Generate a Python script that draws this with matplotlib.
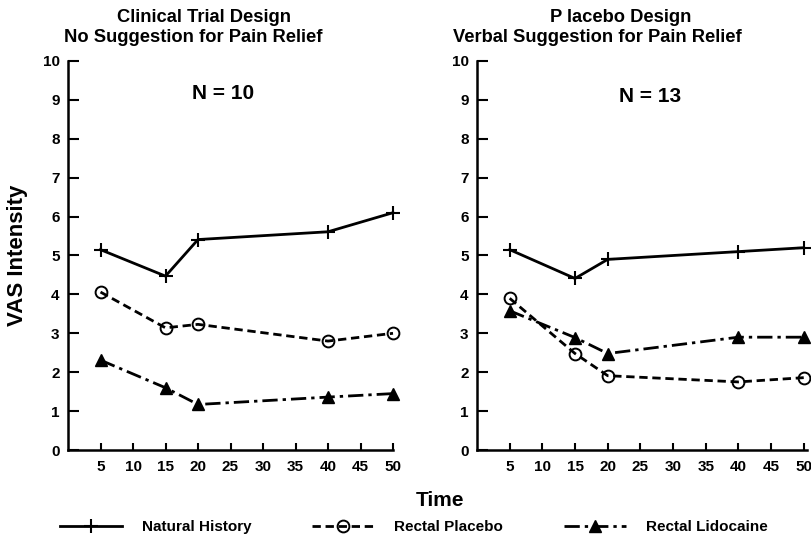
import matplotlib
matplotlib.use("Agg")
import matplotlib.pyplot as plt
from matplotlib.lines import Line2D

plt.rcParams['font.family'] = ['Liberation Sans', 'DejaVu Sans']
plt.rcParams['font.weight'] = 'bold'

time = [5, 15, 20, 40, 50]
x_ticks = [5, 10, 15, 20, 25, 30, 35, 40, 45, 50]
y_ticks = list(range(0, 11))

# Clinical trial design (no suggestion), N = 10
clin_natural = [5.15, 4.47, 5.41, 5.61, 6.10]
clin_placebo = [4.06, 3.14, 3.23, 2.80, 3.00]
clin_lidocaine = [2.31, 1.60, 1.17, 1.36, 1.45]

# Placebo design (verbal suggestion), N = 13
plac_natural = [5.15, 4.41, 4.90, 5.10, 5.20]
plac_placebo = [3.90, 2.48, 1.91, 1.75, 1.86]
plac_lidocaine = [3.58, 2.89, 2.48, 2.90, 2.90]

series_names = ["Natural History", "Rectal Placebo", "Rectal Lidocaine"]
titles = [["Clinical Trial Design", "No Suggestion for Pain Relief"],
          ["P lacebo Design", "Verbal Suggestion for Pain Relief"]]
n_labels = ["N = 10", "N = 13"]

styles = [
    dict(color='black', lw=2.0, linestyle='-', marker='+', ms=10, mew=1.5),
    dict(color='black', lw=2.0, linestyle=(0, (3.0, 1.7)), marker='o', ms=8.5,
         mfc='none', mew=1.4),
    dict(color='black', lw=2.0, linestyle=(0, (5.5, 1.8, 1.2, 1.8)), marker='^', ms=9,
         mew=1.0),
]

fig = plt.figure(figsize=(8.11, 5.38), dpi=100)
ax_l = fig.add_axes([68/811, 1-450/538, 325/811, 389/538])
ax_r = fig.add_axes([477/811, 1-450/538, 330/811, 389/538])

panels = [
    (ax_l, [clin_natural, clin_placebo, clin_lidocaine], 50.0),
    (ax_r, [plac_natural, plac_placebo, plac_lidocaine], 50.5),
]

for ax, data, xmax in panels:
    for vals, st in zip(data, styles):
        ax.plot(time, vals, clip_on=False, **st)
    ax.set_xlim(0, xmax)
    ax.set_ylim(0, 10)
    ax.set_xticks(x_ticks)
    ax.set_yticks(y_ticks)
    ax.spines['top'].set_visible(False)
    ax.spines['right'].set_visible(False)
    for s in ('left', 'bottom'):
        ax.spines[s].set_linewidth(1.8)
    ax.tick_params(direction='in', length=8, width=1.5, labelsize=11, pad=6)
    ax.tick_params(axis='x', length=5, pad=7)
    for lab in ax.get_xticklabels() + ax.get_yticklabels():
        lab.set_fontweight('bold')

# panel headings
fig.text(204/811, 1-17/538, titles[0][0], ha='center', va='center', fontsize=13.2, fontweight='bold')
fig.text(193/811, 1-38/538, titles[0][1], ha='center', va='center', fontsize=13.2, fontweight='bold')
fig.text(621/811, 1-17/538, titles[1][0], ha='center', va='center', fontsize=13.2, fontweight='bold')
fig.text(597/811, 1-38/538, titles[1][1], ha='center', va='center', fontsize=13.2, fontweight='bold')

fig.text(223/811, 1-93/538, n_labels[0], ha='center', va='center', fontsize=15, fontweight='bold')
fig.text(650/811, 1-97/538, n_labels[1], ha='center', va='center', fontsize=15, fontweight='bold')

fig.text(18/811, 1-255/538, "VAS Intensity", rotation=90, ha='center', va='center',
         fontsize=16, fontweight='bold')
fig.text(440/811, 1-500/538, "Time", ha='center', va='center', fontsize=15, fontweight='bold')

handles = [Line2D([], [], **st) for st in styles]
fig.legend(handles, series_names, loc='center left', bbox_to_anchor=(60/811, 1-527/538),
           ncol=3, frameon=False, handlelength=4.05, handletextpad=1.3, columnspacing=4.0,
           prop=dict(size=11, weight='bold'), borderaxespad=0, borderpad=0)

fig.savefig("out.png", dpi=100)
